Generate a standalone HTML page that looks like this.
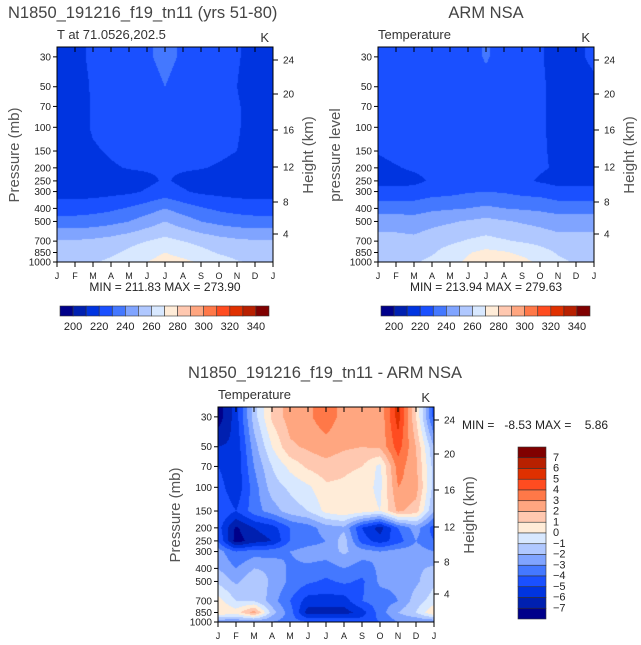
<!DOCTYPE html>
<html><head><meta charset="utf-8">
<style>
body{margin:0;width:641px;height:645px;background:#fff;position:relative;overflow:hidden;font-family:"Liberation Sans",sans-serif}
canvas{position:absolute}
svg{position:absolute;left:0;top:0}
text{white-space:pre}
</style></head><body>
<canvas id="c1" width="216" height="215" style="left:57px;top:47px"></canvas>
<canvas id="c2" width="216" height="215" style="left:378px;top:47px"></canvas>
<canvas id="c3" width="216" height="215" style="left:218px;top:407px"></canvas>
<svg id="s" width="641" height="645"></svg>
<script>
const months=["J","F","M","A","M","J","J","A","S","O","N","D","J"];
const pressures=[30,50,70,100,150,200,250,300,400,500,700,850,1000];
const heightTicks=[24,20,16,12,8,4];
const heightTickY=[13,47,83,120,155,187];
const palette=["#00008a","#0020b0","#0034e0","#1a50ff","#4478ff","#80a4ff","#b0c8ff","#d8e8ff","#ffecd8","#ffc8b0","#ffa680","#ff7848","#ff4c20","#e03000","#b82000","#800000"];
const tempLevels=[200,210,220,230,240,250,260,270,280,290,300,310,320,330,340];
const diffLevels=[-7,-6,-5,-4,-3,-2,-1,0,1,2,3,4,5,6,7];
const tempBarLabels=[200,220,240,260,280,300,320,340];
const diffBarLabels=[7,6,5,4,3,2,1,0,-1,-2,-3,-4,-5,-6,-7];
const modelT=[
[214,217,222,224,226,229,232,229,226,224,221,216,214],
[214,216,221,223,225,227,230,227,225,223,220,215,214],
[214,215.5,221,223,224,225,226,225,224,223,221,216,214],
[214,215.5,221,223,224,225,226,225,224,223,221,216,214],
[214,216,219,221,223,224,225,224,223,222,220,216,214],
[213,214,217,219,220.5,221,221,221,220.5,219,217,214,213],
[213,213,214,215,216,218,221,218,216,215,214,213,213],
[216,216,216,217,218,221,224,221,218,217,216,216,216],
[225,225,226,228,231,235,240,235,231,228,226,225,225],
[234,234,235,237,240,245,250,245,240,237,235,234,234],
[251,251,252,254,257,260,263,260,257,254,252,251,251],
[255,255,256,258,262,266,270,267,263,259,256,255,255],
[258,258,259,262,266,270,274,272,269,265,261,258,258]];
const obsT=[
[221,222,222,223,224,226,231,226,223,220.5,218,219,221],
[221,222,222,223,224,225,227,225,223,221,218,218,219],
[221,222,222,223,224,225,226,225,223,221,218,218,218.5],
[221,222,222,223,224,225,226,225,223,221,218,218,218.5],
[220.5,222,222,223,224,225,225,225,223,221,218.5,218,218.5],
[218,219.5,221,222,223,224,224,224,223,221,219,218,218],
[217,217,218,221,223,224,224,224,222,219,217,217,217],
[223,223,223,226,227,229,230,229,227,226,223,223,223],
[236,236,236,238,239,240,242,240,239,238,236,236,236],
[245,245,244,247,249,251,253,251,249,247,245,245,245],
[254,254,253,256,258,261,263,261,259,257,254,254,254],
[257,257,257,259,264,269,273,271,268,264,259,257,257],
[259,259,259,262,266,272,278,276,273,268,262,259,259]];
const diffT=[
[-7.6,-5.5,-1.5,1.2,2.5,2.8,3.6,2.6,2.4,2.2,5.5,1,-4.5],
[-6,-5.8,-2.5,0,1.8,2.2,2.6,2.2,2,2.2,4.5,2,-2],
[-5,-5.8,-3,-1,0.3,1.2,1.6,1.2,1,-0.3,3.5,2.2,-1.5],
[-4.5,-5.8,-3.5,-1.5,-0.8,-0.2,0.8,0.8,0.5,-0.3,3,2.5,-1.5],
[-4,-5,-3.5,-2.5,-1.5,-1,0.3,0.8,0.5,0,2.2,1.5,-2],
[-4.5,-7.2,-6,-5.5,-4,-3.5,-2.5,-2.2,-5,-6.5,-4,-2.5,-4.5],
[-4,-7.5,-6.5,-6,-4,-3.5,-3,-1.5,-4.5,-5.5,-4.5,-3,-4],
[-2.5,-4,-3.5,-3.5,-3,-2.5,-2.5,-1.8,-2.5,-3,-2.5,-2.5,-3],
[-2,-3,-2,-2.2,-3.2,-3.2,-3.5,-3,-3.5,-2.8,-2.8,-2.2,-1.8],
[-1.2,-2.2,-1.2,-2.2,-3.2,-3.8,-4.2,-3.8,-4.2,-2.8,-2.8,-2.2,-1.2],
[0.5,-1,-1,-2.5,-4,-5.5,-5.5,-5.5,-4,-3.5,-3,-1.5,-0.5],
[1,0.5,2.5,-1.5,-3.5,-6.5,-6.5,-6.5,-5.5,-3.5,-2,-1,1],
[-3,-3,-3,-3,-3.5,-4,-4,-4,-4.5,-4,-3,-3,-3]];

const W=216,H=215,PS=58.5;
function yOfP(p){return H-PS*Math.log(1000/p);}
function xOfM(i){return i*W/12;}
const lnP=pressures.map(p=>Math.log(p));
function colorIdx(v,levels){let k=0;while(k<levels.length&&v>=levels[k])k++;return k;}
function hex(h){return [parseInt(h.substr(1,2),16),parseInt(h.substr(3,2),16),parseInt(h.substr(5,2),16)];}
const palRGB=palette.map(hex);
function drawField(id,grid,levels){
  const cv=document.getElementById(id),ctx=cv.getContext('2d');
  const img=ctx.createImageData(W,H);
  for(let py=0;py<H;py++){
    const p=1000*Math.exp(-(H-py-0.5)/PS);
    const lp=Math.log(Math.max(30,Math.min(1000,p)));
    let r=0;while(r<lnP.length-2&&lp>lnP[r+1])r++;
    const fy=(lp-lnP[r])/(lnP[r+1]-lnP[r]);
    for(let px=0;px<W;px++){
      const m=(px+0.5)/W*12;let c=Math.min(11,Math.floor(m));const fx=m-c;
      const v=grid[r][c]*(1-fx)*(1-fy)+grid[r][c+1]*fx*(1-fy)+grid[r+1][c]*(1-fx)*fy+grid[r+1][c+1]*fx*fy;
      const col=palRGB[colorIdx(v,levels)];const o=(py*W+px)*4;
      img.data[o]=col[0];img.data[o+1]=col[1];img.data[o+2]=col[2];img.data[o+3]=255;
    }
  }
  ctx.putImageData(img,0,0);
}
drawField('c1',modelT,tempLevels);
drawField('c2',obsT,tempLevels);
drawField('c3',diffT,diffLevels);

const S=document.getElementById('s');const NS='http://www.w3.org/2000/svg';
function el(tag,attrs,text){const e=document.createElementNS(NS,tag);for(const k in attrs)e.setAttribute(k,attrs[k]);if(text!==undefined)e.textContent=text;S.appendChild(e);return e;}
function panel(ox,oy,leftLabel,sub,showMin,minmax,key){
  const r=el('rect',{x:ox,y:oy,width:W,height:H,fill:'none',stroke:'#000','stroke-width':1});
  
  
  months.forEach((m,i)=>{
    const x=ox+xOfM(i);
    el('line',{x1:x,y1:oy,x2:x,y2:oy+5,stroke:'#000'});
    el('line',{x1:x,y1:oy+H,x2:x,y2:oy+H+5,stroke:'#000'});
    const t=el('text',{x:x,y:oy+H+17,'font-size':9,'text-anchor':'middle',fill:'#222'},m);
    
    
  });
  pressures.forEach(p=>{
    const y=oy+yOfP(p);
    el('line',{x1:ox-4,y1:y,x2:ox,y2:y,stroke:'#000'});
    const t=el('text',{x:ox-6,y:y+3.5,'font-size':10,'text-anchor':'end',fill:'#222'},p);
    
    
  });
  heightTicks.forEach((h,i)=>{
    const y=oy+heightTickY[i];
    el('line',{x1:ox+W,y1:y,x2:ox+W+5,y2:y,stroke:'#000'});
    const t=el('text',{x:ox+W+10,y:y+3.5,'font-size':10,fill:'#222'},h);
    
    
  });
  const yl=el('text',{x:0,y:0,'font-size':15,'text-anchor':'middle',fill:'#555',transform:`translate(${ox-38},${oy+108}) rotate(-90)`},leftLabel);
  
  
  const yr=el('text',{x:0,y:0,'font-size':15,'text-anchor':'middle',fill:'#555',transform:`translate(${ox+W+40},${oy+108}) rotate(-90)`},'Height (km)');
  
  
  const st=el('text',{x:ox,y:oy-8,'font-size':13,fill:'#333'},sub);
  
  
  const k=el('text',{x:ox+W-4,y:oy-5,'font-size':13,'text-anchor':'end',fill:'#333'},'K');
  
  
  if(showMin){const mm=el('text',{x:ox+W/2,y:oy+H+29,'font-size':12,'text-anchor':'middle',fill:'#222'},minmax);
  
  }
}
panel(57,47,'Pressure (mb)','T at 71.0526,202.5',true,'MIN = 211.83 MAX = 273.90','model');
panel(378,47,'pressure level','Temperature',true,'MIN = 213.94 MAX = 279.63','obs');
panel(218,407,'Pressure (mb)','Temperature',false,'','diff');
const t1=el('text',{x:8,y:18,'font-size':16.5,fill:'#444'},'N1850_191216_f19_tn11 (yrs 51-80)');


const t2=el('text',{x:486,y:18,'font-size':16.5,'text-anchor':'middle',fill:'#444'},'ARM NSA');


const t3=el('text',{x:325,y:378,'font-size':16.5,'text-anchor':'middle',fill:'#444'},'N1850_191216_f19_tn11 - ARM NSA');


const t4=el('text',{x:462,y:429,'font-size':12,fill:'#222'},'MIN =   -8.53 MAX =    5.86');


function hbar(x0,key){
  const bw=209/16;
  palette.forEach((c,i)=>{const r=el('rect',{x:x0+i*bw,y:306,width:bw,height:10,fill:c,stroke:'#333','stroke-width':0.6});
    
    });
  tempBarLabels.forEach((v,i)=>{const t=el('text',{x:x0+(1+2*i)*bw,y:330,'font-size':11,'text-anchor':'middle',fill:'#222'},v);
    
    });
}
hbar(60,'model');hbar(381,'obs');
const bh=172/16;
palette.slice().reverse().forEach((c,i)=>{const r=el('rect',{x:518,y:447+i*bh,width:28,height:bh,fill:c,stroke:'#333','stroke-width':0.6});
  
  });
diffBarLabels.forEach((v,i)=>{const t=el('text',{x:553,y:447+(i+1)*bh+3,'font-size':11,fill:'#222'},v<0?'\u2212'+(-v):v);
  
  });
</script>
</body></html>
